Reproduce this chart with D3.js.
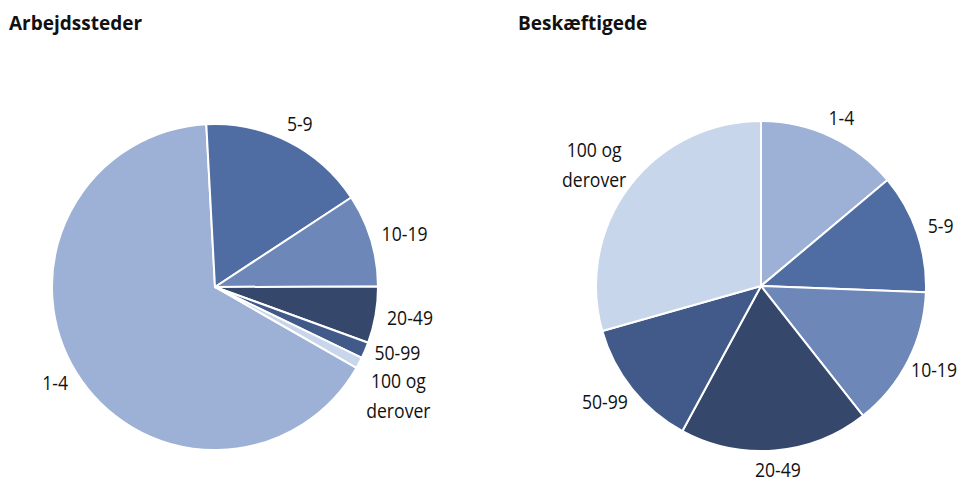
<!DOCTYPE html>
<html><head><meta charset="utf-8">
<script src="https://cdn.jsdelivr.net/npm/d3@7"></script>
<style>body{margin:0;background:#fff}svg{display:block}</style>
</head><body><svg id="c" width="963" height="484"></svg>
<script>
const categories = ["1-4","5-9","10-19","20-49","50-99","100 og derover"];
const arbejdssteder = [65.9, 16.6, 9.2, 5.6, 1.6, 1.1];
const beskaeftigede = [13.9, 11.7, 13.8, 18.5, 12.7, 29.4];
const colors = ["#9DB0D5","#4F6CA3","#6D88B8","#35486C","#425A89","#C7D6EA"];
const titles = ["Arbejdssteder","Beskæftigede"];

const svg = d3.select("#c");
const W = 963;
const font = "'Open Sans', 'DejaVu Sans', sans-serif";
const color = d3.scaleOrdinal().domain(categories).range(colors);
const FS = 20, SQ = 0.88;

const charts = [
  {title: titles[0], values: arbejdssteder, cx: 215, cy: 287, r: 163, start: 119.7, tx: 9},
  {title: titles[1], values: beskaeftigede, cx: 761, cy: 286, r: 165, start: 0, tx: 518}
];

function measure(t) {
  const tmp = svg.append("text").attr("font-family", font).attr("font-size", FS).text(t);
  const w = tmp.node().getComputedTextLength();
  tmp.remove();
  return w;
}

charts.forEach(ch => {
  svg.append("text").attr("x", ch.tx).attr("y", 30)
    .attr("font-family", font).attr("font-weight", 700).attr("font-size", 19)
    .attr("fill", "#111").text(ch.title);

  const rad = ch.start * Math.PI / 180;
  const pie = d3.pie().sort(null).startAngle(rad).endAngle(rad + 2 * Math.PI);
  const data = categories.map((c, i) => ({cat: c, v: ch.values[i]}));
  const arcs = pie.value(d => d.v)(data);
  const arc = d3.arc().innerRadius(0).outerRadius(ch.r);
  const g = svg.append("g").attr("transform", `translate(${ch.cx},${ch.cy})`);
  g.selectAll("path").data(arcs).join("path")
    .attr("d", arc).attr("fill", d => color(d.data.cat))
    .attr("stroke", "#fff").attr("stroke-width", 2).attr("stroke-linejoin", "round");

  // labels
  const gap = 12, lh = 30, th = 16;
  const labels = arcs.map(a => {
    const mid = (a.startAngle + a.endAngle) / 2;
    const s = Math.sin(mid), c = Math.cos(mid);
    const words = a.data.cat.indexOf(" og ") >= 0 ? ["100 og", "derover"] : [a.data.cat];
    const nat = words.map(measure);
    const w = d3.max(nat) * SQ;
    const h = th + (words.length - 1) * lh;
    const px = (ch.r + gap) * s, py = -(ch.r + gap) * c;
    let x = px + s * w / 2;
    const maxX = W - 6 - ch.cx - w / 2;
    if (x > maxX) x = maxX;
    return {words, nat, w, h, x, y: py - c * h / 2, side: s >= 0 ? 1 : -1};
  });
  // simple collision resolution on each side (spread apart)
  [1, -1].forEach(side => {
    const ls = labels.filter(l => l.side === side).sort((a, b) => a.y - b.y);
    for (let i = 1; i < ls.length; i++) {
      const prev = ls[i - 1], cur = ls[i];
      const minY = prev.y + prev.h / 2 + 12 + cur.h / 2;
      if (cur.y < minY && Math.abs(cur.x - prev.x) < (cur.w + prev.w) / 2) {
        const d = minY - cur.y;
        prev.y -= d * 0.25;
        cur.y += d * 0.75;
      }
    }
  });
  labels.forEach(l => {
    l.words.forEach((wd, k) => {
      g.append("text").attr("font-family", font).attr("font-size", FS)
        .attr("fill", "#111").attr("text-anchor", "middle")
        .attr("x", l.x).attr("y", l.y - l.h / 2 + 15 + k * lh)
        .attr("textLength", l.nat[k] * SQ).attr("lengthAdjust", "spacingAndGlyphs")
        .text(wd);
    });
  });
});
</script></body></html>
